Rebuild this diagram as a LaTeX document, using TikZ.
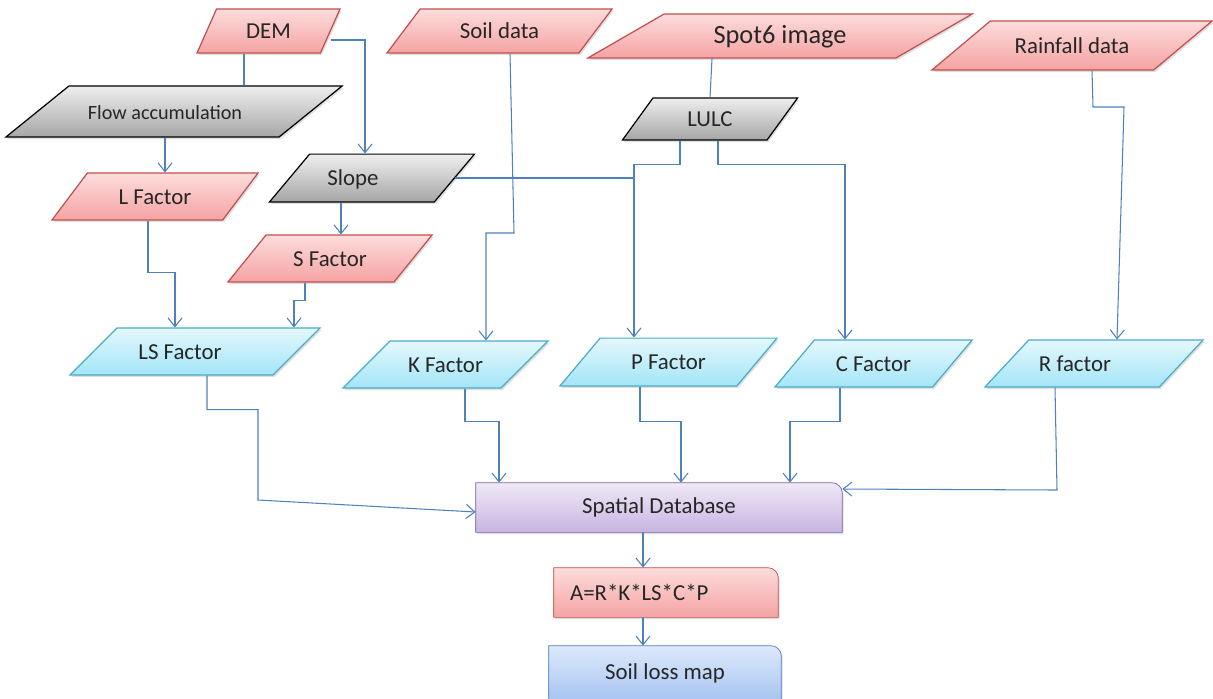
\documentclass[tikz,border=0pt]{standalone}
\usepackage{fontspec}
\setmainfont{Carlito}
\usetikzlibrary{shapes.geometric,arrows.meta,shadows,backgrounds}

\definecolor{redline}{HTML}{C0504D}
\definecolor{redtop}{HTML}{FDDCDC}
\definecolor{redbot}{HTML}{F5A3A3}
\definecolor{graytop}{HTML}{EEEEEE}
\definecolor{graybot}{HTML}{A6A6A6}
\definecolor{cyanline}{HTML}{4BACC6}
\definecolor{cyantop}{HTML}{E4F8FD}
\definecolor{cyanbot}{HTML}{A3E5F8}
\definecolor{purpline}{HTML}{8064A2}
\definecolor{purptop}{HTML}{EFE9F7}
\definecolor{purpbot}{HTML}{C8B4E1}
\definecolor{blueline}{HTML}{4F81BD}
\definecolor{bluetop}{HTML}{DDE9FB}
\definecolor{bluebot}{HTML}{A8C4F2}

\newcommand\padr[1]{\rule{#1}{0pt}}

\tikzset{
  txt/.style={font=\fontsize{13}{15}\selectfont, text=black!85, inner sep=0pt},
  shadowed/.style={drop shadow={shadow xshift=0.8pt, shadow yshift=-1.2pt, opacity=0.25}},
  para/.style={txt, shadowed, line width=0.7pt, trapezium, trapezium stretches body, text height=10.5pt, text depth=1.5pt},
  reddata/.style={para, draw=redline, top color=redtop, bottom color=redbot},
  graydata/.style={para, draw=black, top color=graytop, bottom color=graybot},
  factor/.style={para, draw=cyanline, top color=cyantop, bottom color=cyanbot},
  link/.style={draw=blueline, line width=0.6pt},
  arr/.style={link, -{Straight Barb[length=5pt, width=8pt, line width=0.6pt]}},
}

\begin{document}
\begin{tikzpicture}[x=0.02cm, y=-0.02cm]
\useasboundingbox (0,0) rectangle (1213,698);
% Input data
    \node[reddata, trapezium left angle=66, trapezium right angle=114, minimum width=2.86cm, inner ysep=6.47pt] (dem) at (268.5,31) {DEM};
    \node[reddata, trapezium left angle=53, trapezium right angle=127, minimum width=4.5cm, inner ysep=6.47pt] (soil) at (499.5,31) {Soil data};
    \node[reddata, trapezium left angle=30, trapezium right angle=150, minimum width=7.68cm, inner ysep=6.47pt, font=\fontsize{15}{17}\selectfont] (spot) at (780,36) {Spot6 image};
    \node[reddata, trapezium left angle=40, trapezium right angle=140, minimum width=5.6cm, inner ysep=7.9pt] (rain) at (1072,45.5) {Rainfall data};
% Intermediate layers
    \node[graydata, trapezium left angle=39, trapezium right angle=141, minimum width=6.72cm, inner ysep=8.46pt, font=\fontsize{11.5}{13}\selectfont] (flow) at (174,111.5) {Flow accumulation\padr{0.36cm}};
    \node[graydata, trapezium left angle=54, trapezium right angle=126, minimum width=3.5cm, inner ysep=5.9pt] (lulc) at (710,119) {LULC};
    \node[graydata, trapezium left angle=50, trapezium right angle=130, minimum width=4.1cm, inner ysep=7.6pt] (slope) at (372,178) {Slope\padr{0.76cm}};
    \node[reddata, trapezium left angle=53, trapezium right angle=127, minimum width=4.12cm, inner ysep=7.32pt] (lfac) at (155,196.5) {L Factor};
    \node[reddata, trapezium left angle=51, trapezium right angle=129, minimum width=4.08cm, inner ysep=7.32pt] (sfac) at (330,258.5) {S Factor};
% Factors
    \node[factor, trapezium left angle=45, trapezium right angle=135, minimum width=5cm, inner ysep=7.32pt] (lsfac) at (195,351.5) {LS Factor\padr{0.6cm}};
    \node[factor, trapezium left angle=45, trapezium right angle=135, minimum width=4.1cm, inner ysep=7.32pt] (kfac) at (445.5,364.5) {K Factor};
    \node[factor, trapezium left angle=50, trapezium right angle=130, minimum width=4.34cm, inner ysep=7.6pt] (pfac) at (668.5,362) {P Factor};
    \node[factor, trapezium left angle=50, trapezium right angle=130, minimum width=3.94cm, inner ysep=7.32pt] (cfac) at (873.5,363.5) {C Factor};
    \node[factor, trapezium left angle=47, trapezium right angle=133, minimum width=4.36cm, inner ysep=7.32pt] (rfac) at (1094,363.5) {R factor\padr{0.76cm}};
% Output boxes
    \node[txt, minimum width=7.32cm, minimum height=0.98cm] (sdb) at (659,507.5) {Spatial Database};
    \node[txt, minimum width=4.48cm, minimum height=0.98cm, text width=3.84cm, align=left] (eqn) at (666,592.5) {A=R*K*LS*C*P};
    \node[txt, minimum width=4.64cm, minimum height=1.08cm] (map) at (665,673) {Soil loss map};
    \begin{scope}[on background layer, line width=0.7pt]
        \path[shadowed, draw=purpline, top color=purptop, bottom color=purpbot] (sdb.south west) -- (sdb.north west) -- ([xshift=-6pt]sdb.north east) arc[start angle=90, end angle=0, radius=6pt] -- (sdb.south east) -- cycle;
        \path[shadowed, draw=redline, top color=redtop, bottom color=redbot] (eqn.south west) -- (eqn.north west) -- ([xshift=-6pt]eqn.north east) arc[start angle=90, end angle=0, radius=6pt] -- (eqn.south east) -- cycle;
        \path[shadowed, draw=blueline, top color=bluetop, bottom color=bluebot] (map.south west) -- (map.north west) -- ([xshift=-6pt]map.north east) arc[start angle=90, end angle=0, radius=6pt] -- (map.south east) -- cycle;
    \end{scope}
% Connectors
    \draw[link] (dem.south -| 244,0) -- (flow.north -| 244,0);
    \draw[arr] (dem.east |- 0,40) -| (slope.north -| 365,0);
    \draw[arr] (flow.south -| 165,0) -- (lfac.north -| 165,0);
    \draw[arr] (slope.south -| 341,0) -- (sfac.north -| 341,0);
    \draw[arr] (lfac.south -| 148,0) -- ++(0,52) -| (lsfac.north -| 175,0);
    \draw[arr] (sfac.south -| 305,0) -- ++(0,18) -| (lsfac.north -| 294,0);
    \draw[arr] (soil.south -| 510,0) -- (514,233) -| (kfac.north -| 486,0);
    \draw[link] (spot.south -| 712,0) -- (lulc.north -| 710,0);
    \draw[arr] (lulc.south -| 680,0) -- ++(0,24) -| (pfac.north -| 634,0);
    \draw[link] (slope.east) -- (slope.east -| 634,0);
    \draw[arr] (lulc.south -| 718,0) -- ++(0,24) -| (cfac.north -| 845,0);
    \draw[arr] (rain.south -| 1092,0) -- (1093,107) -- (1124,107) -- (rfac.north -| 1117,0);
    \draw[arr] (lsfac.south -| 207,0) -- ++(0,34) -| (258,500) -- (sdb.west |- 0,512);
    \draw[arr] (kfac.south -| 465,0) -- ++(0,33) -| (sdb.north -| 499,0);
    \draw[arr] (pfac.south -| 640,0) -- ++(0,35) -| (sdb.north -| 681,0);
    \draw[arr] (cfac.south -| 840,0) -- ++(0,34) -| (sdb.north -| 790,0);
    \draw[arr] (rfac.south -| 1055,0) -- (1057,490) -- (sdb.east |- 0,489);
    \draw[arr] (sdb.south -| 643,0) -- (eqn.north -| 643,0);
    \draw[arr] (eqn.south -| 643,0) -- (map.north -| 643,0);
\end{tikzpicture}
\end{document}
